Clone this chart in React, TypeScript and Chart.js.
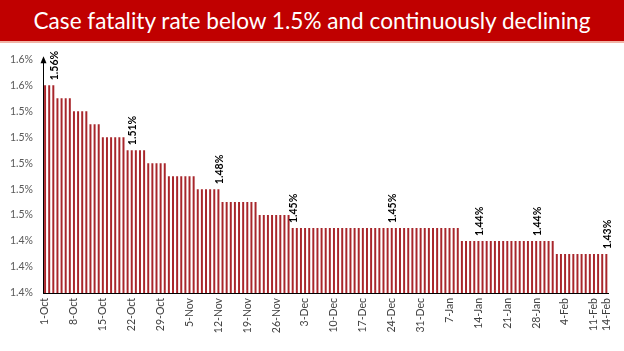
import React, { useEffect, useRef } from 'react';
import { Chart, registerables } from 'chart.js';

Chart.register(...registerables);

const TITLE = 'Case fatality rate below 1.5% and continuously declining';

const OCT_DATES = ['1-Oct','2-Oct','3-Oct','4-Oct','5-Oct','6-Oct','7-Oct','8-Oct','9-Oct','10-Oct','11-Oct','12-Oct','13-Oct','14-Oct','15-Oct','16-Oct','17-Oct','18-Oct','19-Oct','20-Oct','21-Oct','22-Oct','23-Oct','24-Oct','25-Oct','26-Oct','27-Oct','28-Oct','29-Oct','30-Oct','31-Oct'];
const NOV_DATES = ['1-Nov','2-Nov','3-Nov','4-Nov','5-Nov','6-Nov','7-Nov','8-Nov','9-Nov','10-Nov','11-Nov','12-Nov','13-Nov','14-Nov','15-Nov','16-Nov','17-Nov','18-Nov','19-Nov','20-Nov','21-Nov','22-Nov','23-Nov','24-Nov','25-Nov','26-Nov','27-Nov','28-Nov','29-Nov','30-Nov'];
const DEC_DATES = ['1-Dec','2-Dec','3-Dec','4-Dec','5-Dec','6-Dec','7-Dec','8-Dec','9-Dec','10-Dec','11-Dec','12-Dec','13-Dec','14-Dec','15-Dec','16-Dec','17-Dec','18-Dec','19-Dec','20-Dec','21-Dec','22-Dec','23-Dec','24-Dec','25-Dec','26-Dec','27-Dec','28-Dec','29-Dec','30-Dec','31-Dec'];
const JAN_DATES = ['1-Jan','2-Jan','3-Jan','4-Jan','5-Jan','6-Jan','7-Jan','8-Jan','9-Jan','10-Jan','11-Jan','12-Jan','13-Jan','14-Jan','15-Jan','16-Jan','17-Jan','18-Jan','19-Jan','20-Jan','21-Jan','22-Jan','23-Jan','24-Jan','25-Jan','26-Jan','27-Jan','28-Jan','29-Jan','30-Jan','31-Jan'];
const FEB_DATES = ['1-Feb','2-Feb','3-Feb','4-Feb','5-Feb','6-Feb','7-Feb','8-Feb','9-Feb','10-Feb','11-Feb','12-Feb','13-Feb','14-Feb'];

const OCT_CFR = [1.56,1.56,1.56,1.55,1.55,1.55,1.55,1.54,1.54,1.54,1.54,1.53,1.53,1.53,1.52,1.52,1.52,1.52,1.52,1.52,1.51,1.51,1.51,1.51,1.51,1.50,1.50,1.50,1.50,1.50,1.49];
const NOV_CFR = [1.49,1.49,1.49,1.49,1.49,1.49,1.48,1.48,1.48,1.48,1.48,1.48,1.47,1.47,1.47,1.47,1.47,1.47,1.47,1.47,1.47,1.46,1.46,1.46,1.46,1.46,1.46,1.46,1.46,1.45];
const DEC_CFR = [1.45,1.45,1.45,1.45,1.45,1.45,1.45,1.45,1.45,1.45,1.45,1.45,1.45,1.45,1.45,1.45,1.45,1.45,1.45,1.45,1.45,1.45,1.45,1.45,1.45,1.45,1.45,1.45,1.45,1.45,1.45];
const JAN_CFR = [1.45,1.45,1.45,1.45,1.45,1.45,1.45,1.45,1.45,1.44,1.44,1.44,1.44,1.44,1.44,1.44,1.44,1.44,1.44,1.44,1.44,1.44,1.44,1.44,1.44,1.44,1.44,1.44,1.44,1.44,1.44];
const FEB_CFR = [1.44,1.43,1.43,1.43,1.43,1.43,1.43,1.43,1.43,1.43,1.43,1.43,1.43,1.43];

const CATEGORIES = [...OCT_DATES, ...NOV_DATES, ...DEC_DATES, ...JAN_DATES, ...FEB_DATES];
const CFR_VALUES = [...OCT_CFR, ...NOV_CFR, ...DEC_CFR, ...JAN_CFR, ...FEB_CFR];

const SHOWN_TICKS = ['1-Oct','8-Oct','15-Oct','22-Oct','29-Oct','5-Nov','12-Nov','19-Nov','26-Nov','3-Dec','10-Dec','17-Dec','24-Dec','31-Dec','7-Jan','14-Jan','21-Jan','28-Jan','4-Feb','11-Feb','14-Feb'];
const LABELED_DATES = ['3-Oct','22-Oct','12-Nov','30-Nov','24-Dec','14-Jan','28-Jan','14-Feb'];

const Y_MIN = 1.40;
const Y_MAX = 1.58;
const Y_STEP = 0.02;

export default function App() {
  const ref = useRef<HTMLCanvasElement>(null);

  useEffect(() => {
    document.body.style.margin = '0';
    const labelPlugin = {
      id: 'barLabels',
      afterDatasetsDraw(chart: any) {
        const ctx = chart.ctx;
        const meta = chart.getDatasetMeta(0);
        ctx.save();
        ctx.font = 'bold 10.5px Lato';
        ctx.fillStyle = '#000';
        ctx.textAlign = 'left';
        ctx.textBaseline = 'middle';
        LABELED_DATES.forEach((d) => {
          const i = CATEGORIES.indexOf(d);
          const el = meta.data[i];
          if (!el) return;
          ctx.save();
          ctx.translate(el.x + 1, el.y - 5);
          ctx.rotate(-Math.PI / 2);
          ctx.fillText(CFR_VALUES[i].toFixed(2) + '%', 0, 0);
          ctx.restore();
        });
        const { left, top } = chart.chartArea;
        ctx.fillStyle = '#000';
        ctx.beginPath();
        ctx.moveTo(left + 0.5, top - 3);
        ctx.lineTo(left - 2.5, top + 4);
        ctx.lineTo(left + 3.5, top + 4);
        ctx.closePath();
        ctx.fill();
        ctx.restore();
      },
    };

    const chart = new Chart(ref.current as HTMLCanvasElement, {
      type: 'bar',
      data: {
        labels: CATEGORIES,
        datasets: [
          {
            data: CFR_VALUES,
            backgroundColor: '#A8262B',
            borderWidth: 0,
            barPercentage: 0.48,
            categoryPercentage: 1,
          },
        ],
      },
      options: {
        animation: false,
        responsive: false,
        devicePixelRatio: 1,
        layout: { padding: { top: 12, right: 14, left: 0, bottom: 0 } },
        plugins: { legend: { display: false }, tooltip: { enabled: false } },
        scales: {
          x: {
            grid: { display: false, drawTicks: false },
            border: { display: true, color: '#000', width: 1 },
            ticks: {
              autoSkip: false,
              minRotation: 90,
              maxRotation: 90,
              padding: 5,
              color: '#404040',
              font: { family: 'Lato', size: 10.5 },
              callback: (_v: any, i: number) => (SHOWN_TICKS.includes(CATEGORIES[i]) ? CATEGORIES[i] : ''),
            },
            afterFit: (s: any) => {
              s.height = 58;
            },
          },
          y: {
            min: Y_MIN,
            max: Y_MAX,
            grid: { display: false, drawTicks: false },
            border: { display: true, color: '#000', width: 1 },
            ticks: {
              stepSize: Y_STEP,
              padding: 10,
              color: '#595959',
              font: { family: 'Lato', size: 10.5 },
              callback: (v: any) => Number(v).toFixed(1) + '%',
            },
            afterFit: (s: any) => {
              s.width = 43;
            },
          },
        },
      },
      plugins: [labelPlugin],
    } as any);
    return () => chart.destroy();
  }, []);

  return (
    <div style={{ position: 'absolute', left: 0, top: 0, width: 624, height: 351, background: '#fff', overflow: 'hidden' }}>
      <div
        style={{
          height: 41,
          background: '#C00000',
          color: '#fff',
          fontFamily: 'Lato, sans-serif',
          fontSize: 22.6,
          display: 'flex',
          alignItems: 'center',
          justifyContent: 'center',
          borderBottom: '2px solid #F0B4A6',
          whiteSpace: 'nowrap',
        }}
      >
        {TITLE}
      </div>
      <canvas ref={ref} width={624} height={308} style={{ display: 'block', width: 624, height: 308 }} />
    </div>
  );
}
